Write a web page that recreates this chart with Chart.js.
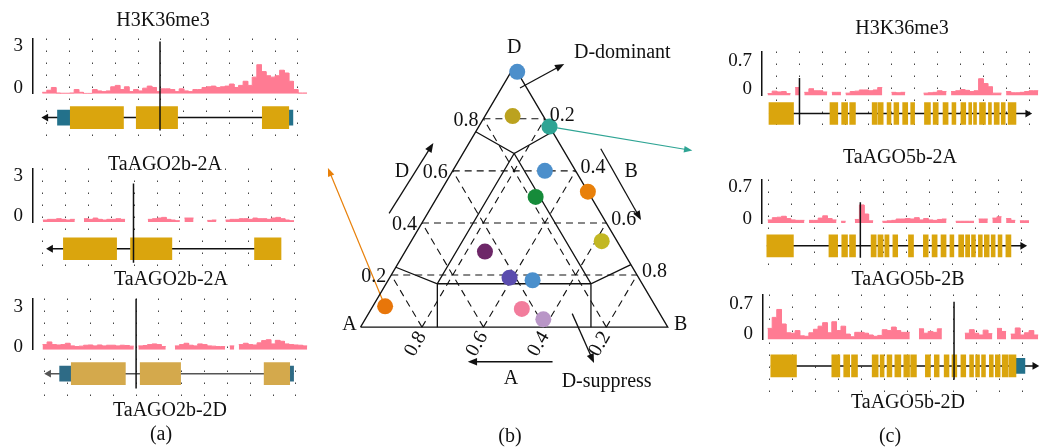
<!DOCTYPE html>
<html>
<head>
<meta charset="utf-8">
<script src="https://cdn.jsdelivr.net/npm/chart.js@4.4.0/dist/chart.umd.min.js"></script>
<style>
  body { margin: 0; background: #fff; width: 1047px; height: 447px; overflow: hidden; position: relative; font-family: "Liberation Serif", "DejaVu Serif", serif; }
  .box { position: absolute; }
  .lbl { position: absolute; transform: translate(-50%, -50%); font-size: 20px; line-height: 1; white-space: nowrap; color: #111; z-index: 5; }
</style>
</head>
<body>
<div class="box" style="left:0;top:34px;width:312px;height:112px"><canvas id="a1"></canvas></div>
<div class="box" style="left:0;top:164px;width:312px;height:116px"><canvas id="a2"></canvas></div>
<div class="box" style="left:0;top:294px;width:312px;height:108px"><canvas id="a3"></canvas></div>
<div class="box" style="left:729px;top:47px;width:316px;height:89px"><canvas id="c1"></canvas></div>
<div class="box" style="left:729px;top:175px;width:316px;height:98px"><canvas id="c2"></canvas></div>
<div class="box" style="left:730px;top:290px;width:315px;height:107px"><canvas id="c3"></canvas></div>
<div class="box" style="left:0;top:0;width:1047px;height:447px;z-index:3"><canvas id="tern"></canvas></div>

<div class="lbl" style="left:163px;top:19px">H3K36me3</div>
<div class="lbl" style="left:165px;top:163px">TaAGO2b-2A</div>
<div class="lbl" style="left:171px;top:278px">TaAGO2b-2A</div>
<div class="lbl" style="left:170px;top:409px">TaAGO2b-2D</div>
<div class="lbl" style="left:161px;top:433px">(a)</div>
<div class="lbl" style="left:510px;top:435px">(b)</div>
<div class="lbl" style="left:902px;top:27px">H3K36me3</div>
<div class="lbl" style="left:900px;top:156px">TaAGO5b-2A</div>
<div class="lbl" style="left:908px;top:278px">TaAGO5b-2B</div>
<div class="lbl" style="left:908px;top:401px">TaAGO5b-2D</div>
<div class="lbl" style="left:890px;top:435px">(c)</div>

<script>
const SERIF = '"Liberation Serif", "DejaVu Serif", serif';
const PINK = "#ff7b93";

// ---- coverage (one value per 0.2-unit bin, null = no signal) ----
const covA1 = [0.1,0.25,0.45,0.05,0.03,0.03,0.05,0.3,0.1,0.02,0.02,0.3,0.2,0.15,0.2,0.5,0.6,0.3,0.5,0.15,
  0.3,0.2,0.4,0.55,0.45,0.15,0.35,0.35,0.3,0.15,0.35,0.2,0.15,0.3,0.3,0.45,0.5,0.55,0.45,0.5,
  0.55,0.7,0.45,0.6,0.9,0.6,1.2,2.1,1.6,1.3,1.2,1.3,1.7,1.5,0.9,0.3,0.05,0.05];
const covA2 = [0.15,0.2,0.2,0.25,0.2,0.15,0.2,null,null,0.25,0.2,0.3,0.2,0.15,0.2,0.2,0.25,0.2,
  null,null,null,null,null,0.2,0.25,0.3,0.35,0.2,0.15,0.1,null,0.3,0.3,null,null,null,0.12,0.15,null,null,
  0.15,0.2,0.2,0.25,0.25,0.2,0.3,0.25,0.25,0.2,0.3,0.35,0.25,0.15,0.1,null,null];
const covA3 = [0.4,0.6,0.4,0.37,0.4,0.5,0.3,0.25,0.28,0.35,0.37,0.3,0.37,0.3,0.35,0.35,0.3,0.35,0.33,0.28,
  null,0.3,0.33,0.4,0.45,0.4,0.25,null,null,0.3,0.4,0.5,0.35,0.3,0.45,0.4,0.3,0.28,0.25,0.25,
  null,0.3,null,0.4,0.5,0.4,0.37,0.53,0.7,0.77,0.45,0.72,0.65,0.45,0.4,0.37,0.35,0.3];
const covC1 = [0.05,0.11,0.09,0.1,0.05,null,0.2,null,0.08,0.17,0.12,0.12,0.09,null,0.08,0.08,null,0.06,0.1,0.11,
  0.14,0.14,0.12,0.14,0.2,null,null,0.08,0.07,0.08,null,null,null,null,0.06,0.07,0.08,0.12,0.1,null,
  0.1,0.12,0.15,0.13,0.1,0.12,0.42,0.3,0.22,0.06,0.06,null,0.1,0.07,0.07,0.08,0.1,0.12,0.12];
const covC2 = [0.07,0.12,0.13,0.15,0.1,0.07,0.06,0.06,null,0.06,0.06,0.11,0.16,0.1,0.07,null,0.04,null,null,0.08,
  0.4,0.2,0.05,null,null,0.04,0.05,0.06,0.09,0.09,0.1,0.09,0.12,0.07,0.1,0.07,0.06,0.08,0.09,null,
  null,0.04,0.04,0.04,0.04,null,0.09,0.09,null,0.11,0.14,null,0.1,0.06,null,0.05,0.05,null,null];
const covC3 = [0.25,0.5,0.68,0.35,0.15,0.14,0.2,0.08,0.07,0.15,0.23,0.3,0.38,0.15,0.4,0.2,0.3,0.12,0.06,0.16,
  0.16,0.14,0.1,0.07,0.09,0.22,0.2,0.28,0.2,0.16,0.16,null,null,0.24,0.14,0.18,0.16,0.24,null,null,
  null,null,null,0.14,0.22,0.14,0.1,0.21,0.13,null,0.25,0.18,null,0.12,0.26,0.1,0.15,0.2,0.1];

// ---- gene models: exons / UTRs as [start, end], intron line, marked site ----
const exA1 = [[1.03,3.36],[3.92,5.73],[9.44,10.6]];
const utrA1 = [[0.47,1.03],[10.6,10.78]];
const exA2 = [[0.9,3.23],[3.84,5.65],[9.27,10.43]];
const exA3 = [[1.16,3.53],[4.18,5.95],[9.61,10.73]];
const utrA3 = [[0.65,1.16],[10.73,10.9]];
const exC1 = [[-0.34,0.73],[2.32,2.66],[2.83,3.09],[3.18,3.43],[4.16,4.38],[4.42,4.64],[4.81,4.98],[5.11,5.32],
  [5.49,5.71],[5.84,6.01],[6.44,6.7],[6.82,7.04],[7.25,7.47],[7.64,7.81],[8.03,8.24],[8.37,8.5],[8.58,8.71],
  [8.84,9.1],[9.23,9.36],[9.48,9.7],[9.79,9.96],[10.09,10.43]];
const exC2 = [[-0.09,1.07],[2.62,3.0],[3.18,3.43],[3.52,3.78],[4.46,4.68],[4.76,4.98],[5.06,5.24],[5.41,5.62],
  [6.09,6.31],[6.74,6.95],[7.12,7.34],[7.51,7.73],[7.9,8.07],[8.28,8.5],[8.58,8.76],[8.84,9.01],[9.14,9.31],
  [9.4,9.61],[9.7,9.87],[10.0,10.17],[10.34,10.56]];
const exC3 = [[0.04,1.16],[2.7,3.05],[3.22,3.48],[3.56,3.82],[4.46,4.72],[4.81,4.98],[5.11,5.32],[5.45,5.71],
  [5.84,6.09],[6.14,6.39],[6.78,7.0],[7.17,7.38],[7.6,7.81],[7.94,8.15],[8.33,8.54],[8.71,8.88],[8.97,9.14],
  [9.23,9.4],[9.57,9.74],[9.83,10.04],[10.13,10.39],[10.43,10.73]];
const utrC3 = [[10.73,11.12]];
const intronA1 = [-0.04, 10.78], intronA2 = [0.34, 10.43], intronA3 = [0.17, 10.9];
const intronC1 = [-0.34, 10.94], intronC2 = [-0.09, 11.07], intronC3 = [0.04, 11.55];
const marks = { a1: 4.96, a2: 3.97, a3: 4.0, c1: 0.99, c2: 3.99, c3: 8.03 };
const gridCols = [0,1,2,3,4,5,6,7,8,9,10,11];

// ---- ternary plot (proportions of A, B, D) ----
const ternTicks = [0.2, 0.4, 0.6, 0.8];
const ptA = [0.0, 0.10, 0.0, 0.10, 0.18, 0.0, 0.05, 0.45, 0.42, 0.35, 0.44, 0.39, 0.88];
const ptB = [0.02, 0.09, 0.23, 0.30, 0.32, 0.48, 0.62, 0.26, 0.39, 0.47, 0.49, 0.58, 0.04];
const ptD = [0.98, 0.81, 0.77, 0.60, 0.50, 0.52, 0.33, 0.29, 0.19, 0.18, 0.07, 0.03, 0.08];
const ptColor = ["#4c8fcb","#bba21f","#2ea494","#4c8fcb","#168b3a","#e8800a","#c2b723",
  "#6d2768","#5a4cae","#4a8fcc","#f27c9c","#b996c7","#e8760a"];
const regionPaths = [
  [[0.25,0,0.75],[1/6,1/6,2/3],[0,0.25,0.75]],
  [[0.77,0,0.23],[2/3,1/6,1/6],[1/6,2/3,1/6],[0,0.76,0.24]],
  [[0.75,0.25,0],[2/3,1/6,1/6],[1/6,1/6,2/3],[1/6,2/3,1/6],[0.25,0.75,0]]
];

Chart.defaults.animation = false;
Chart.defaults.events = [];
Chart.defaults.plugins.legend.display = false;
Chart.defaults.plugins.tooltip.enabled = false;

function covPoints(vals, start, w) {
  const pts = [];
  vals.forEach((v, i) => {
    const x0 = start + i * w;
    if (v === null) { pts.push({ x: x0, y: null }); return; }
    pts.push({ x: x0, y: v }, { x: x0 + w, y: v });
  });
  return pts;
}

function makeTrack(t) {
  const left = t.arrow === "left";
  new Chart(document.getElementById(t.id), {
    type: "line",
    data: {
      datasets: [
        { type: "line", data: covPoints(t.cov, t.start, 0.2), xAxisID: "x", yAxisID: "yc",
          borderColor: PINK, backgroundColor: PINK, borderWidth: 1, fill: "origin", pointRadius: 0, order: 2 },
        { type: "line", data: [{ x: t.intron[0], y: "g" }, { x: t.intron[1], y: "g" }], xAxisID: "x", yAxisID: "yg",
          borderColor: t.lineColor, borderWidth: 1.5, pointStyle: "triangle", pointRadius: left ? [4.5, 0] : [0, 4.5],
          pointRotation: left ? -90 : 90, pointBackgroundColor: t.lineColor, pointBorderWidth: 0, order: 3 },
        { type: "bar", indexAxis: "y", data: t.exons.map(e => ({ x: e, y: "g" })), xAxisID: "x", yAxisID: "yg",
          backgroundColor: t.exonColor, barThickness: 22, grouped: false, order: 1 },
        { type: "bar", indexAxis: "y", data: t.utrs.map(e => ({ x: e, y: "g" })), xAxisID: "x", yAxisID: "yg",
          backgroundColor: t.utrColor, barThickness: 15, grouped: false, order: 1 },
        { type: "line", data: [{ x: marks[t.id], y: t.markSpan[0] }, { x: marks[t.id], y: t.markSpan[1] }],
          xAxisID: "x", yAxisID: "ym", borderColor: "#111", borderWidth: 1.5, pointRadius: 0, order: 0 }
      ]
    },
    options: {
      responsive: true,
      maintainAspectRatio: false,
      layout: { padding: 0 },
      scales: {
        x: {
          type: "linear", min: t.xMin, max: t.xMax,
          afterBuildTicks: s => { s.ticks = gridCols.map(v => ({ value: v })); },
          afterFit: s => { s.height = 0; s.paddingLeft = 0; s.paddingRight = 0; },
          ticks: { display: false },
          grid: { color: "#444", lineWidth: 1, drawTicks: false },
          border: { display: false, dash: [1.5, 10.5] }
        },
        yg: {
          type: "category", labels: ["g"], position: "left", stack: "trk", stackWeight: t.wGene, offset: true,
          afterFit: s => { s.width = t.axisW; s.paddingTop = 0; s.paddingBottom = 0; },
          ticks: { display: false },
          grid: { display: false, drawTicks: false },
          border: { display: false }
        },
        yc: {
          type: "linear", position: "left", stack: "trk", stackWeight: t.wCov, min: 0, max: t.yMax,
          afterBuildTicks: s => { s.ticks = t.yTicks.map(v => ({ value: v })); },
          afterFit: s => { s.width = t.axisW; s.paddingTop = 0; s.paddingBottom = 0; },
          ticks: { color: "#111", font: { family: SERIF, size: 19 }, padding: 10, labelOffset: t.labelOffset,
                   autoSkip: false, callback: v => String(v) },
          grid: { display: false, drawTicks: false },
          border: { display: true, color: "#111", width: 1.5 }
        },
        ym: { type: "linear", position: "right", display: false, min: 0, max: 1 }
      }
    }
  });
}

const gold = "#daa50d", teal = "#23718b";
[
  { id: "a1", cov: covA1, start: -0.2, xMin: -0.603, xMax: 11.42, yMax: 4, yTicks: [0, 3], labelOffset: -6,
    wCov: 60, wGene: 52, exons: exA1, utrs: utrA1, intron: intronA1, arrow: "left", markSpan: [0.107, 0.97],
    exonColor: gold, utrColor: teal, lineColor: "#111", axisW: 33 },
  { id: "a2", cov: covA2, start: 0, xMin: -0.431, xMax: 11.59, yMax: 4.05, yTicks: [0, 3], labelOffset: -6,
    wCov: 58, wGene: 58, exons: exA2, utrs: [], intron: intronA2, arrow: "left", markSpan: [0.12, 0.86],
    exonColor: gold, utrColor: teal, lineColor: "#111", axisW: 33 },
  { id: "a3", cov: covA3, start: -0.1, xMin: -0.517, xMax: 11.51, yMax: 3.9, yTicks: [0, 3], labelOffset: -3,
    wCov: 56, wGene: 52, exons: exA3, utrs: utrA3, intron: intronA3, arrow: "left", markSpan: [0.09, 1.0],
    exonColor: "#d4a94c", utrColor: "#2e6b86", lineColor: "#555", axisW: 33 },
  { id: "c1", cov: covC1, start: -0.4, xMin: -0.644, xMax: 11.5, yMax: 1.1, yTicks: [0, 0.7], labelOffset: -7,
    wCov: 49, wGene: 40, exons: exC1, utrs: [], intron: intronC1, arrow: "right", markSpan: [0.09, 0.67],
    exonColor: gold, utrColor: teal, lineColor: "#111", axisW: 33 },
  { id: "c2", cov: covC2, start: -0.05, xMin: -0.3, xMax: 11.85, yMax: 0.96, yTicks: [0, 0.7], labelOffset: -4,
    wCov: 48, wGene: 50, exons: exC2, utrs: [], intron: intronC2, arrow: "right", markSpan: [0.12, 0.745],
    exonColor: gold, utrColor: teal, lineColor: "#111", axisW: 33 },
  { id: "c3", cov: covC3, start: -0.1, xMin: -0.3, xMax: 11.8, yMax: 1.02, yTicks: [0, 0.7], labelOffset: -5,
    wCov: 49, wGene: 58, exons: exC3, utrs: utrC3, intron: intronC3, arrow: "right", markSpan: [0.13, 0.925],
    exonColor: gold, utrColor: teal, lineColor: "#111", axisW: 33 }
].forEach(makeTrack);

// ---- ternary ----
const S3 = Math.sqrt(3) / 2;
function tern(a, b, d) { return { x: b + d / 2, y: d * S3 }; }

const outline = [tern(1, 0, 0), tern(0, 1, 0), tern(0, 0, 1), tern(1, 0, 0)];
const gridSegs = [];
ternTicks.forEach(k => {
  gridSegs.push(tern(1 - k, 0, k), tern(0, 1 - k, k), { x: 0, y: null });
  gridSegs.push(tern(1 - k, k, 0), tern(0, k, 1 - k), { x: 0, y: null });
  gridSegs.push(tern(k, 1 - k, 0), tern(k, 0, 1 - k), { x: 0, y: null });
});
const regionSegs = [];
regionPaths.forEach(p => { p.forEach(c => regionSegs.push(tern(c[0], c[1], c[2]))); regionSegs.push({ x: 0, y: null }); });
const points = ptA.map((a, i) => tern(a, ptB[i], ptD[i]));

// annotation arrows, in the plot's own x/y units
const annArrows = [
  { from: [0.519, 0.795], to: [0.663, 0.875] },
  { from: [0.093, 0.378], to: [0.237, 0.612] },
  { from: [0.782, 0.593], to: [0.913, 0.356] },
  { from: [0.625, -0.115], to: [0.349, -0.115] },
  { from: [0.689, 0.045], to: [0.760, -0.119] }
];
const annText = [
  { t: "D-dominant", at: [0.852, 0.913] },
  { t: "D", at: [0.135, 0.516] },
  { t: "B", at: [0.881, 0.516] },
  { t: "A", at: [0.490, -0.173] },
  { t: "D-suppress", at: [0.801, -0.183] }
];
const links = [
  { pt: 12, to: [-0.106, 0.529], color: "#e8800a" },
  { pt: 2, to: [1.080, 0.587], color: "#2ea494" }
];

function arrow(ctx, x1, y1, x2, y2, color, lw, head) {
  const ang = Math.atan2(y2 - y1, x2 - x1);
  ctx.strokeStyle = color; ctx.fillStyle = color; ctx.lineWidth = lw;
  ctx.beginPath(); ctx.moveTo(x1, y1);
  ctx.lineTo(x2 - Math.cos(ang) * head * 0.7, y2 - Math.sin(ang) * head * 0.7); ctx.stroke();
  ctx.beginPath(); ctx.moveTo(x2, y2);
  ctx.lineTo(x2 - head * Math.cos(ang - 0.38), y2 - head * Math.sin(ang - 0.38));
  ctx.lineTo(x2 - head * Math.cos(ang + 0.38), y2 - head * Math.sin(ang + 0.38));
  ctx.closePath(); ctx.fill();
}

const ternDeco = {
  id: "ternDeco",
  beforeDatasetsDraw(chart) {
    const { ctx, scales: { x, y } } = chart;
    ctx.save();
    links.forEach(l => {
      const p = points[l.pt];
      arrow(ctx, x.getPixelForValue(p.x), y.getPixelForValue(p.y),
        x.getPixelForValue(l.to[0]), y.getPixelForValue(l.to[1]), l.color, 1.2, 9);
    });
    ctx.restore();
  },
  afterDatasetsDraw(chart) {
    const { ctx, scales: { x, y } } = chart;
    const P = c => [x.getPixelForValue(c.x), y.getPixelForValue(c.y)];
    ctx.save();
    ctx.font = "20px " + SERIF;
    ctx.fillStyle = "#111";
    ctx.textBaseline = "middle";
    ternTicks.forEach(k => {
      const lab = k.toFixed(1);
      let [px, py] = P(tern(1 - k, 0, k));
      ctx.textAlign = "right"; ctx.fillText(lab, px - 5, py + 2);
      [px, py] = P(tern(0, k, 1 - k));
      ctx.textAlign = "left"; ctx.fillText(lab, px + 5, py - 3);
      [px, py] = P(tern(k, 1 - k, 0));
      ctx.save(); ctx.translate(px, py + 6); ctx.rotate(-Math.PI / 3);
      ctx.textAlign = "right"; ctx.fillText(lab, 0, 0); ctx.restore();
    });
    ctx.textAlign = "center";
    let [ax, ay] = P(tern(1, 0, 0)); ctx.fillText("A", ax - 11, ay - 2);
    [ax, ay] = P(tern(0, 1, 0)); ctx.fillText("B", ax + 13, ay - 2);
    [ax, ay] = P(tern(0, 0, 1)); ctx.fillText("D", ax, ay - 19);
    annText.forEach(a => ctx.fillText(a.t, x.getPixelForValue(a.at[0]), y.getPixelForValue(a.at[1])));
    annArrows.forEach(a => arrow(ctx, x.getPixelForValue(a.from[0]), y.getPixelForValue(a.from[1]),
      x.getPixelForValue(a.to[0]), y.getPixelForValue(a.to[1]), "#111", 1.3, 10));
    ctx.restore();
  }
};

new Chart(document.getElementById("tern"), {
  type: "scatter",
  plugins: [ternDeco],
  data: {
    datasets: [
      { data: gridSegs, showLine: true, borderColor: "#111", borderWidth: 1.1, borderDash: [7, 5], pointRadius: 0, order: 3 },
      { data: regionSegs, showLine: true, borderColor: "#111", borderWidth: 1.3, pointRadius: 0, order: 2 },
      { data: outline, showLine: true, borderColor: "#111", borderWidth: 1.3, pointRadius: 0, order: 1 },
      { data: points, showLine: false, pointRadius: 8, pointBackgroundColor: ptColor, pointBorderWidth: 0, order: 0 }
    ]
  },
  options: {
    responsive: true,
    maintainAspectRatio: false,
    layout: { padding: 0 },
    scales: {
      x: { type: "linear", display: false, min: -1.1474, max: 2.2083 },
      y: { type: "linear", display: false, min: -0.3718, max: 1.0609 }
    }
  }
});
</script>
</body>
</html>
